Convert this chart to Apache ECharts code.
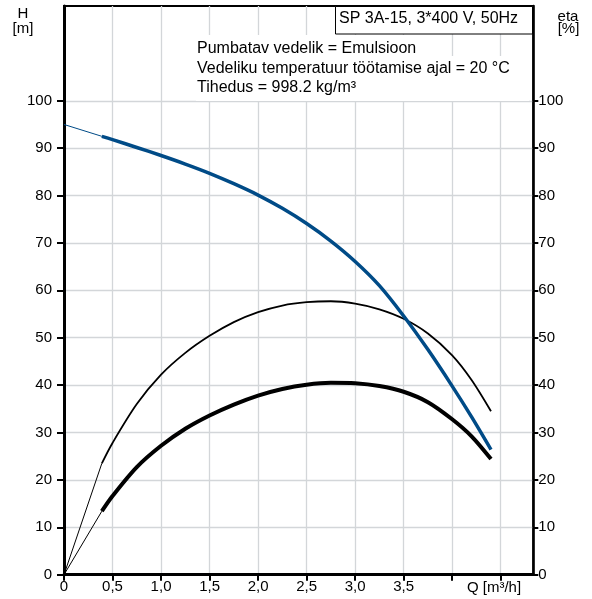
<!DOCTYPE html>
<html>
<head>
<meta charset="utf-8">
<script src="https://cdn.jsdelivr.net/npm/echarts@6/dist/echarts.min.js"></script>
<style>
html,body{margin:0;padding:0;background:#fff;}
#chart{width:592px;height:599px;}
</style>
</head>
<body>
<div id="chart"></div>
<script>
// ---- data ----
const headStart = [[0, 95.0], [0.39, 92.5]];
const headCurve = [[0.39, 92.5], [0.5, 91.8], [0.75, 90.15], [1.0, 88.45], [1.25, 86.65], [1.5, 84.7], [1.75, 82.5], [2.0, 80.1], [2.25, 77.3], [2.5, 74.1], [2.75, 70.4], [3.0, 66.1], [3.25, 61.0], [3.5, 54.6], [3.75, 47.5], [4.0, 39.8], [4.2, 33.3], [4.4, 26.4]];
const etaUpperStart = [[0, 0], [0.39, 23.5]];
const etaUpperCurve = [[0.39, 23.5], [0.5, 27.8], [0.75, 36.0], [1.0, 42.2], [1.25, 46.8], [1.5, 50.4], [1.75, 53.3], [2.0, 55.4], [2.25, 56.8], [2.5, 57.5], [2.75, 57.7], [3.0, 57.2], [3.25, 56.0], [3.5, 54.0], [3.75, 50.9], [4.0, 46.3], [4.2, 41.1], [4.4, 34.5]];
const etaLowerStart = [[0, 0], [0.39, 13.4]];
const etaLowerCurve = [[0.39, 13.4], [0.5, 16.6], [0.75, 22.7], [1.0, 27.2], [1.25, 30.8], [1.5, 33.6], [1.75, 35.9], [2.0, 37.8], [2.25, 39.2], [2.5, 40.1], [2.75, 40.5], [3.0, 40.4], [3.25, 39.8], [3.5, 38.6], [3.75, 36.4], [4.0, 32.8], [4.2, 29.2], [4.4, 24.4]];
const xTickValues = [0, 0.5, 1.0, 1.5, 2.0, 2.5, 3.0, 3.5, 4.0, 4.5];
const xLabelValues = [0, 0.5, 1.0, 1.5, 2.0, 2.5, 3.0, 3.5];
const yTickValues = [0, 10, 20, 30, 40, 50, 60, 70, 80, 90, 100];
const titleText = 'SP 3A-15, 3*400 V, 50Hz';
const infoLines = ['Pumbatav vedelik = Emulsioon', 'Vedeliku temperatuur töötamise ajal = 20 °C', 'Tihedus = 998.2 kg/m³'];

const FONT = '"Liberation Sans", Arial, sans-serif';
const BLUE = '#004b87';
const GRIDC = '#d3d6d9';

const chart = echarts.init(document.getElementById('chart'), null, {renderer: 'canvas'});

function lineSeries(data, color, width, smooth, yIdx) {
  return {
    type: 'line', data: data, yAxisIndex: yIdx, symbol: 'none', showSymbol: false,
    smooth: smooth, silent: true, animation: false,
    lineStyle: {color: color, width: width, cap: 'butt'}
  };
}

const option = {
  animation: false,
  backgroundColor: '#fff',
  grid: {left: 64, right: 58.7, top: 6, bottom: 24.3, show: true, borderColor: '#000', borderWidth: 2},
  xAxis: {
    type: 'value', min: 0, max: 4.836, interval: 0.5,
    axisLine: {show: true, lineStyle: {color: '#000', width: 3}},
    axisTick: {show: true, length: 6, customValues: xTickValues, lineStyle: {color: '#000', width: 2}},
    axisLabel: {
      customValues: xLabelValues, color: '#000', fontSize: 15, fontFamily: FONT, margin: 5,
      formatter: function (v) { return v === 0 ? '0' : v.toFixed(1).replace('.', ','); }
    },
    splitLine: {show: true, lineStyle: {color: GRIDC, width: 1.3}}
  },
  yAxis: [
    {
      type: 'value', min: 0, max: 120, interval: 10, position: 'left',
      axisLine: {show: true, lineStyle: {color: '#000', width: 3}},
      axisTick: {show: true, length: 7, customValues: yTickValues, lineStyle: {color: '#000', width: 2}},
      axisLabel: {customValues: yTickValues, color: '#000', fontSize: 15, fontFamily: FONT, margin: 12},
      splitLine: {show: true, lineStyle: {color: GRIDC, width: 1.3}}
    },
    {
      type: 'value', min: 0, max: 120, interval: 10, position: 'right',
      axisLine: {show: true, lineStyle: {color: '#000', width: 2.5}},
      axisTick: {show: true, length: 5, customValues: yTickValues, lineStyle: {color: '#000', width: 2}},
      axisLabel: {customValues: yTickValues, color: '#000', fontSize: 15, fontFamily: FONT, margin: 5},
      splitLine: {show: false}
    }
  ],
  series: [
    lineSeries(etaUpperStart, '#000', 1, false, 1),
    lineSeries(etaUpperCurve, '#000', 1.8, 0.3, 1),
    lineSeries(etaLowerStart, '#000', 1, false, 1),
    lineSeries(etaLowerCurve, '#000', 4, 0.3, 1),
    lineSeries(headStart, BLUE, 1, false, 0),
    lineSeries(headCurve, BLUE, 3.5, 0.3, 0)
  ],
  graphic: [
    {type: 'rect', z: 50, silent: true, shape: {x: 196, y: 35, width: 250, height: 21}, style: {fill: '#fff'}},
    {type: 'rect', z: 50, silent: true, shape: {x: 196, y: 56, width: 333, height: 45}, style: {fill: '#fff'}},
    {type: 'text', z: 51, silent: true, x: 197, y: 49, style: {text: infoLines[0], fill: '#000', font: '16px ' + FONT, textAlign: 'left', textVerticalAlign: 'middle'}},
    {type: 'text', z: 51, silent: true, x: 197, y: 68.5, style: {text: infoLines[1], fill: '#000', font: '16px ' + FONT, textAlign: 'left', textVerticalAlign: 'middle'}},
    {type: 'text', z: 51, silent: true, x: 197, y: 88, style: {text: infoLines[2], fill: '#000', font: '16px ' + FONT, textAlign: 'left', textVerticalAlign: 'middle'}},
    {type: 'rect', z: 52, silent: true, shape: {x: 335.5, y: 6.5, width: 197, height: 27.5}, style: {fill: '#fff', stroke: '#000', lineWidth: 1}},
    {type: 'text', z: 53, silent: true, x: 339, y: 18.5, style: {text: titleText, fill: '#000', font: '16px ' + FONT, textAlign: 'left', textVerticalAlign: 'middle'}},
    {type: 'text', z: 53, silent: true, x: 23, y: 13.5, style: {text: 'H', fill: '#000', font: '15px ' + FONT, textAlign: 'center', textVerticalAlign: 'middle'}},
    {type: 'text', z: 53, silent: true, x: 23, y: 29, style: {text: '[m]', fill: '#000', font: '15px ' + FONT, textAlign: 'center', textVerticalAlign: 'middle'}},
    {type: 'text', z: 53, silent: true, x: 568, y: 16.5, style: {text: 'eta', fill: '#000', font: '15px ' + FONT, textAlign: 'center', textVerticalAlign: 'middle'}},
    {type: 'text', z: 53, silent: true, x: 568.5, y: 29, style: {text: '[%]', fill: '#000', font: '15px ' + FONT, textAlign: 'center', textVerticalAlign: 'middle'}},
    {type: 'text', z: 53, silent: true, x: 494, y: 587.5, style: {text: 'Q [m³/h]', fill: '#000', font: '15px ' + FONT, textAlign: 'center', textVerticalAlign: 'middle'}}
  ]
};
chart.setOption(option);
</script>
</body>
</html>
